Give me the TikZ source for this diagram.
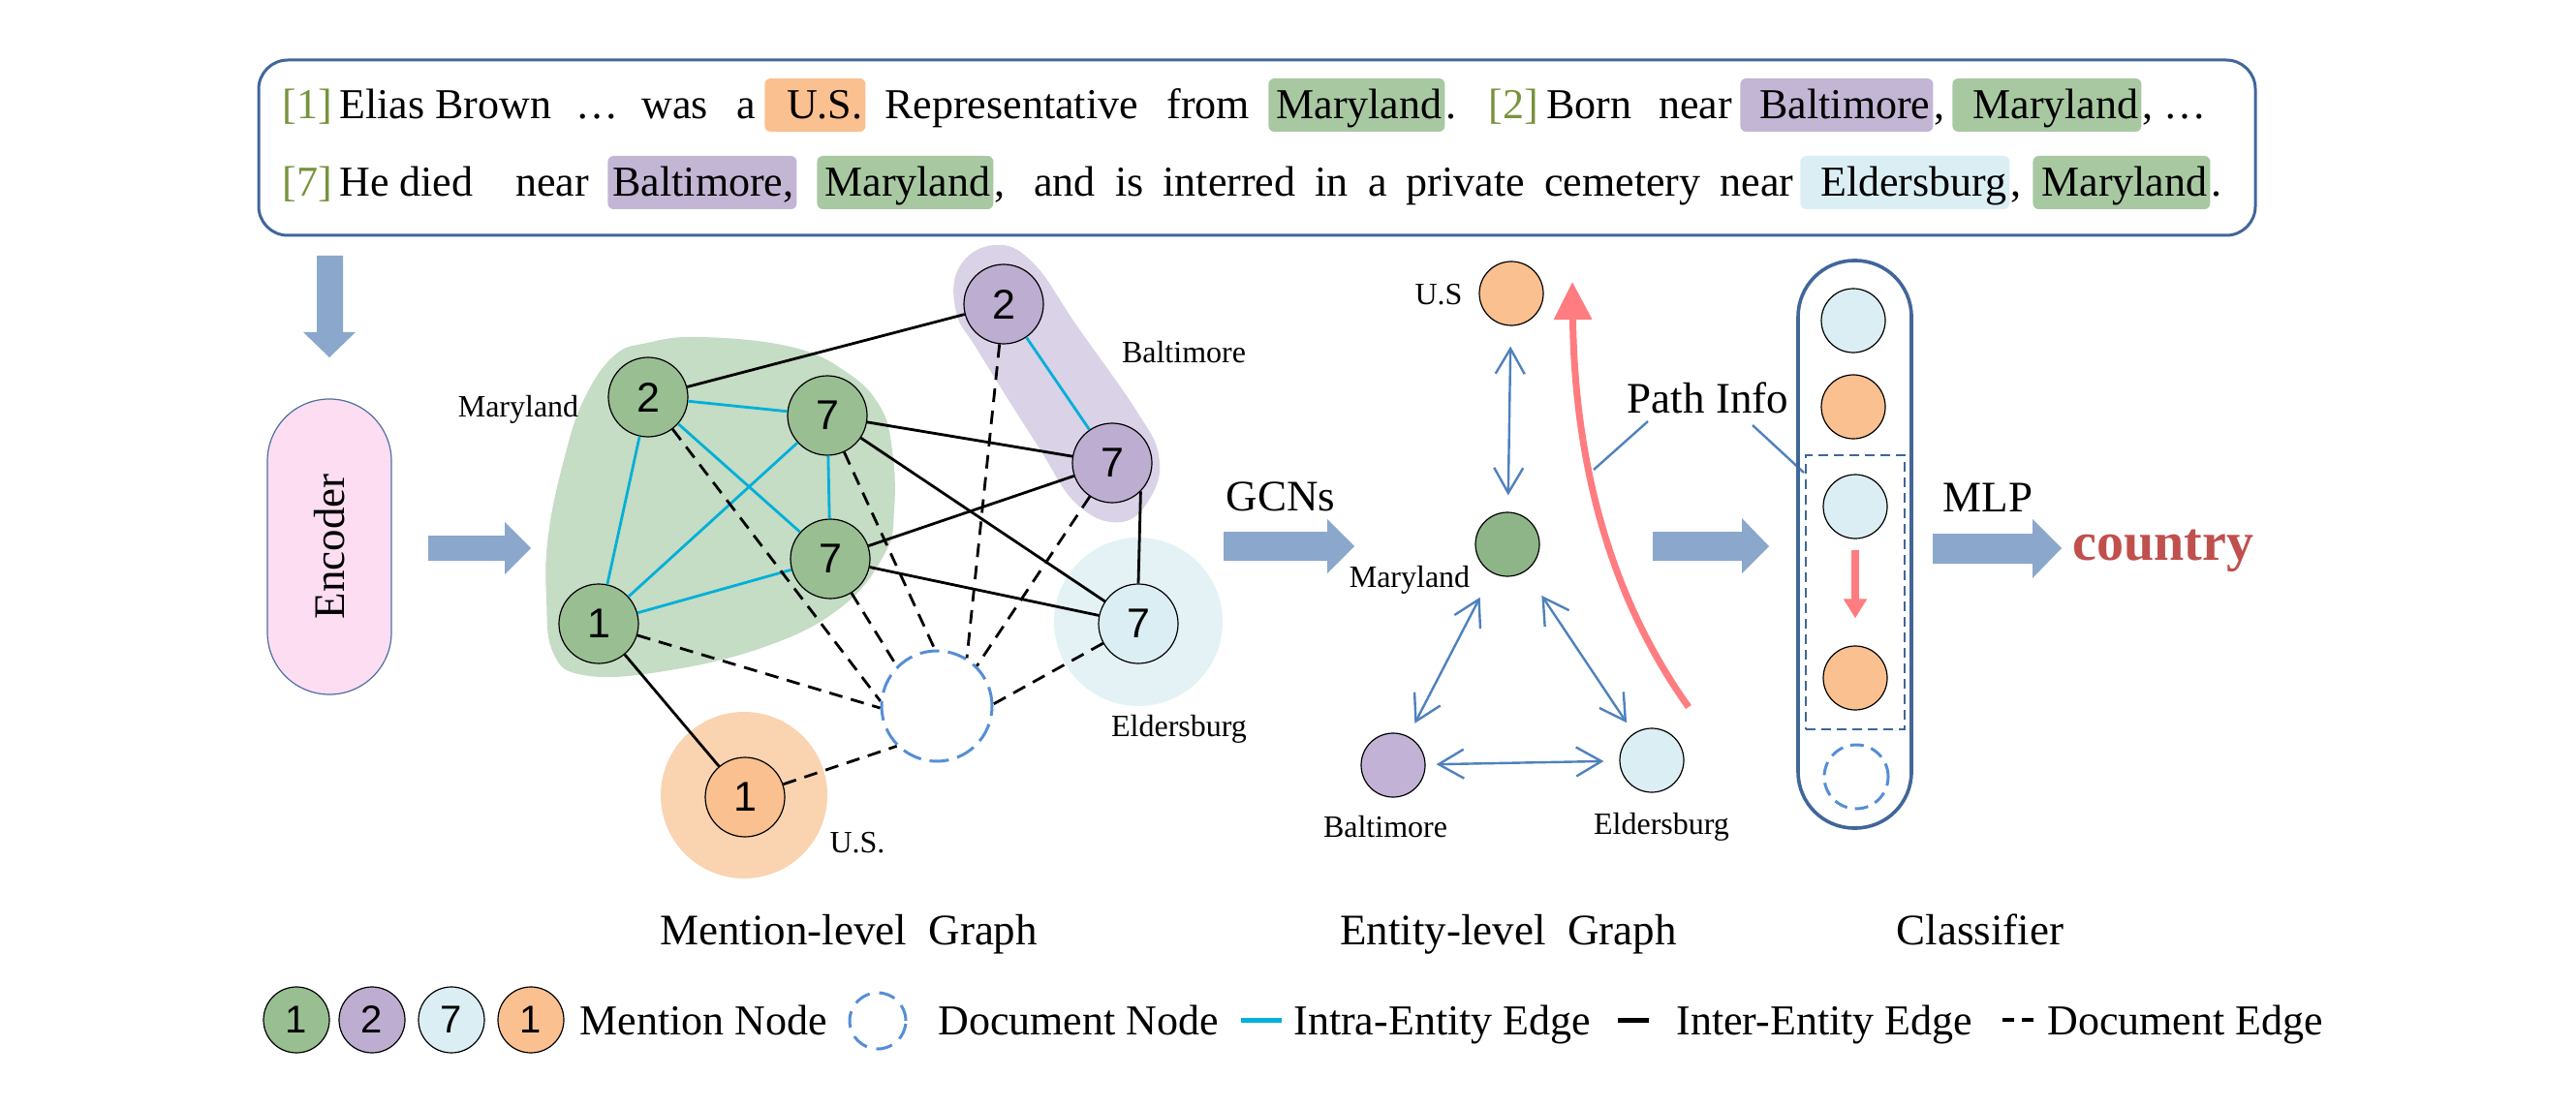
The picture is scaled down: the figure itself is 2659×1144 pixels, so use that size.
\documentclass[tikz,border=0pt]{standalone}
\usepackage{fontspec}
\setmainfont{Liberation Serif}
\newfontfamily\numfont{Liberation Sans}
\usetikzlibrary{arrows.meta}

\definecolor{boxblue}{HTML}{41669A}
\definecolor{arrowblue}{HTML}{8BA7CB}
\definecolor{mgreen}{HTML}{98BE92}
\definecolor{egreen}{HTML}{8DB587}
\definecolor{blobgreen}{HTML}{C5DCC5}
\definecolor{mpurple}{HTML}{BDADD0}
\definecolor{epurple}{HTML}{C2B3D6}
\definecolor{blobpurple}{HTML}{DAD2E6}
\definecolor{lblue}{HTML}{DBEEF3}
\definecolor{bloblblue}{HTML}{E4F2F6}
\definecolor{morange}{HTML}{FAC090}
\definecolor{bloborange}{HTML}{FAD4B0}
\definecolor{hlgreen}{HTML}{A8C8A1}
\definecolor{hlpurple}{HTML}{C3B5D4}
\definecolor{cyanedge}{HTML}{00B0D8}
\definecolor{docblue}{HTML}{558ED5}
\definecolor{entblue}{HTML}{4F81BD}
\definecolor{redarrow}{HTML}{FF7C80}
\definecolor{countryred}{HTML}{C0504D}
\definecolor{refgreen}{HTML}{77933C}
\definecolor{encpink}{HTML}{FCDDF2}
\definecolor{encborder}{HTML}{4F6FA0}

% highlighted word, text pushed to the right edge
\newcommand{\hlw}[2]{\makebox[#1][r]{#2\hspace{1.5pt}}}

\tikzset{
  txt/.style={anchor=base west,inner sep=0pt,font=\fontsize{22}{24}\selectfont},
  reftxt/.style={txt,text=refgreen},
  hlbox/.style={txt,fill=#1,rounded corners=3pt,text height=21pt,text depth=6.5pt},
  biglabel/.style={anchor=base,inner sep=0pt,font=\fontsize{22.5}{25}\selectfont},
  smalllabel/.style={inner sep=0pt,font=\fontsize{16}{18}\selectfont},
  mnode/.style={circle,draw,line width=0.6pt,minimum size=41pt,inner sep=0pt,font=\numfont\fontsize{21.5}{22}\selectfont},
  lgnode/.style={mnode,minimum size=34pt,font=\numfont\fontsize{20}{22}\selectfont},
  enode/.style={circle,draw,line width=0.6pt,minimum size=33pt,inner sep=0pt},
  docnode/.style={circle,draw=docblue,line width=1.5pt,dash pattern=on 10pt off 4.5pt,inner sep=0pt},
  intra/.style={cyanedge,line width=1.4pt},
  inter/.style={black,line width=1.4pt},
  docedge/.style={black,line width=1.4pt,dash pattern=on 7pt off 4.5pt},
  fatarrow/.style={fill=arrowblue},
  dblarrow/.style={entblue,line width=1.2pt,{Straight Barb[length=13pt,width=15pt]}-{Straight Barb[length=13pt,width=15pt]}},
}

\begin{document}
\begin{tikzpicture}[x=0.5pt,y=-0.5pt]
\useasboundingbox (0,0) rectangle (2659,1144);

% sentence box
\node[draw=boxblue,line width=1.5pt,rounded corners=15pt,minimum width=1030.5pt,minimum height=90.5pt,inner sep=0pt] (sentbox) at (1297.5,152.5) {};

\node[reftxt] (s1) at (291,123) {[1]};
\node[txt] (s1a) at (350,123) {Elias Brown};
\node[txt] (s1b) at (594,123) {…};
\node[txt] (s1c) at (662,123) {was};
\node[txt] (s1d) at (760,123) {a};
\node[hlbox=morange] (w1) at (789,123) {\hlw{52pt}{U.S.}};
\node[txt] (s1e) at (913,123) {Representative};
\node[txt] (s1f) at (1204,123) {from};
\node[hlbox=hlgreen] (w2) at (1309,123) {\hlw{91pt}{Maryland}};
\node[txt] (s1g) at (w2.base east) {.};
\node[reftxt] (s2) at (1536,123) {[2]};
\node[txt] (s2a) at (1596,123) {Born};
\node[txt] (s2b) at (1712,123) {near};
\node[hlbox=hlpurple] (w3) at (1796,123) {\hlw{99.5pt}{Baltimore}};
\node[txt] (s2c) at (w3.base east) {,};
\node[hlbox=hlgreen] (w4) at (2015,123) {\hlw{97.5pt}{Maryland}};
\node[txt] (s2d) at (w4.base east) {, …};

\node[reftxt] (s7) at (291,203) {[7]};
\node[txt] (s7a) at (350,203) {He died};
\node[txt] (s7b) at (532,203) {near};
\node[hlbox=hlpurple] (w5) at (627,203) {\hlw{97.5pt}{Baltimore,}};
\node[hlbox=hlgreen] (w6) at (843,203) {\hlw{91pt}{Maryland}};
\node[txt] (s7c) at (w6.base east) {,};
\node[txt] (s7d) at (1067,203) {\makebox[392pt][s]{and is interred in a private cemetery near}};
\node[hlbox=lblue] (w7) at (1858,203) {\hlw{108pt}{Eldersburg}};
\node[txt] (s7e) at (w7.base east) {,};
\node[hlbox=hlgreen] (w8) at (2098,203) {\hlw{91.5pt}{Maryland}};
\node[txt] (s7f) at (w8.base east) {.};

% big arrows
\fill[fatarrow] (327,264) -- (354,264) -- (354,343) -- (367,343) -- (340,369) -- (313,343) -- (327,343) -- cycle;
\fill[fatarrow] (442,553) -- (521,553) -- (521,539) -- (548,566) -- (521,593) -- (521,579) -- (442,579) -- cycle;
\fill[fatarrow] (1263,549) -- (1370,549) -- (1370,536) -- (1398,564) -- (1370,592) -- (1370,579) -- (1263,579) -- cycle;
\fill[fatarrow] (1706,549) -- (1798,549) -- (1798,535) -- (1826,564) -- (1798,592) -- (1798,579) -- (1706,579) -- cycle;
\fill[fatarrow] (1995,551) -- (2098,551) -- (2098,536) -- (2128,566) -- (2098,597) -- (2098,582) -- (1995,582) -- cycle;

\node[draw=encborder,line width=0.6pt,fill=encpink,rounded corners=32pt,minimum width=152.5pt,minimum height=64pt,rotate=90,inner sep=0pt,font=\fontsize{22.5}{25}\selectfont] (enc) at (340,564.5) {Encoder};

% mention-level graph
\fill[blobgreen] plot[smooth cycle,tension=0.7] coordinates {(633,368) (668,354) (724,348) (816,358) (872,383) (908,419) (921,465) (923,526) (913,572) (867,628) (786,669) (679,694) (602,697) (571,674) (564,618) (566,552) (582,475) (602,414)};
\fill[blobpurple] plot[smooth cycle,tension=0.7] coordinates {(1026,253) (1066,271) (1112,337) (1173,424) (1196,470) (1189,511) (1158,539) (1112,521) (1071,460) (1010,363) (987,322) (990,276)};
\node[circle,fill=bloblblue,minimum size=87pt] (eblob) at (1175,642) {};
\node[circle,fill=bloborange,minimum size=86pt] (ublob) at (768,821) {};

\node[mnode,fill=mgreen] (m2) at (669,410) {2};
\node[mnode,fill=mgreen] (m7a) at (854,429) {7};
\node[mnode,fill=mgreen] (m7b) at (857,577) {7};
\node[mnode,fill=mgreen] (m1) at (618,644) {1};
\node[mnode,fill=mpurple] (b2) at (1036,314) {2};
\node[mnode,fill=mpurple] (b7) at (1148,478) {7};
\node[mnode,fill=lblue] (e7) at (1175,644) {7};
\node[mnode,fill=morange] (u1) at (769,823) {1};
\node[docnode,minimum size=57pt] (doc) at (967,729) {};

\foreach \a/\b in {m2/m7a,m2/m1,m2/m7b,m7a/m7b,m7a/m1,m1/m7b,b2/b7}
  \draw[intra] (\a) -- (\b);
\foreach \a/\b in {m2/b2,m7a/b7,m7a/e7,m7b/b7,m7b/e7,m1/u1}
  \draw[inter] (\a) -- (\b);
\draw[inter] (b7.south east) -- (e7.north);
\foreach \a/\ang in {m2/175,m1/182,m7b/135,m7a/92,b2/58,b7/45,e7/2,u1/225}
  \draw[docedge] (\a) -- (doc.\ang);

\node[smalllabel] (lmd) at (535,423) {Maryland};
\node[smalllabel] (lbt) at (1222,364) {Baltimore};
\node[smalllabel] (lel) at (1217,753) {Eldersburg};
\node[smalllabel] (lus) at (885,870) {U.S.};

\node[biglabel] (gcn) at (1322,527) {GCNs};

% entity-level graph
\node[enode,fill=morange] (us) at (1560,303) {};
\node[enode,fill=egreen] (md) at (1556,562) {};
\node[enode,fill=epurple] (bt) at (1438,790) {};
\node[enode,fill=lblue] (el) at (1705,785) {};
\node[smalllabel] (tus) at (1485,304) {U.S};
\node[smalllabel] (tmd) at (1455,599) {Maryland};
\node[smalllabel] (tbt) at (1430,854) {Baltimore};
\node[smalllabel] (tel) at (1715,854) {Eldersburg};

\draw[dblarrow,shorten <=10.5pt,shorten >=8.5pt] (us) -- (md);
\draw[dblarrow,shorten <=14pt,shorten >=7.5pt] (md) -- (bt);
\draw[dblarrow,shorten <=15pt,shorten >=6.5pt] (md) -- (el);
\draw[dblarrow,shorten <=5.5pt,shorten >=8pt] (bt) -- (el);

\coordinate (rstart) at (1743,730);
\coordinate (rend) at (1623,291);
\draw[redarrow,line width=3.5pt,-{Triangle[length=19.5pt,width=19pt]}] (rstart) .. controls (1650,600) and (1625,450) .. (rend);

\node[biglabel] (pinfo) at (1763,426) {Path Info};
\coordinate (pa) at (1701,435);
\coordinate (pb) at (1645,485);
\coordinate (pc) at (1809,439);
\coordinate (pd) at (1862,488);
\draw[entblue,line width=1.2pt] (pa) -- (pb);
\draw[entblue,line width=1.2pt] (pc) -- (pd);

% classifier
\node[draw=boxblue,line width=1.8pt,rounded corners=29pt,minimum width=58.5pt,minimum height=293pt,inner sep=0pt] (clf) at (1914.5,562) {};
\node[draw=boxblue,line width=1pt,dash pattern=on 5pt off 3pt,minimum width=51pt,minimum height=141.5pt,inner sep=0pt] (pathbox) at (1915,611.5) {};
\node[enode,fill=lblue] (c1) at (1913,331) {};
\node[enode,fill=morange] (c2) at (1913,420) {};
\node[enode,fill=lblue] (c3) at (1915,523) {};
\node[enode,fill=morange] (c4) at (1915,700) {};
\node[docnode,minimum size=33pt,dash pattern=on 7pt off 4pt] (c5) at (1916,802) {};
\draw[redarrow,line width=3.7pt,shorten <=5.5pt,shorten >=14pt,-{Triangle[length=10pt,width=11.5pt]}] (c3) -- (c4);

\node[biglabel] (mlp) at (2052,528) {MLP};
\node[anchor=base,inner sep=0pt,text=countryred,font=\bfseries\fontsize{28}{30}\selectfont] (cty) at (2233,578) {country};

% captions
\node[biglabel] (cap1) at (876,975) {Mention-level~~Graph};
\node[biglabel] (cap2) at (1557,975) {Entity-level~~Graph};
\node[biglabel] (cap3) at (2044,975) {Classifier};

% legend
\node[lgnode,fill=mgreen] (lg1) at (306,1053) {1};
\node[lgnode,fill=mpurple] (lg2) at (384,1053) {2};
\node[lgnode,fill=lblue] (lg3) at (466,1053) {7};
\node[lgnode,fill=morange] (lg4) at (548,1053) {1};
\node[txt] (lt1) at (598,1068) {Mention Node};
\node[docnode,minimum size=29pt,dash pattern=on 8.5pt off 5pt] (lgdoc) at (906,1054) {};
\node[txt] (lt2) at (968,1068) {Document Node};
\draw[cyanedge,line width=2.5pt] (1281,1053) -- (1323,1053);
\node[txt] (lt3) at (1335,1068) {Intra-Entity Edge};
\draw[black,line width=2.5pt] (1670,1053) -- (1702,1053);
\node[txt] (lt4) at (1730,1068) {Inter-Entity Edge};
\draw[black,line width=2pt,dash pattern=on 6pt off 4pt] (2067,1053) -- (2099,1053);
\node[txt] (lt5) at (2113,1068) {Document Edge};
\end{tikzpicture}
\end{document}
